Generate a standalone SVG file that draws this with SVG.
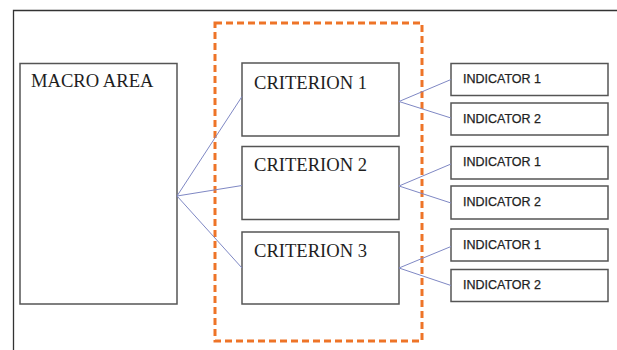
<svg xmlns="http://www.w3.org/2000/svg" width="617" height="350" viewBox="0 0 617 350">
<style>
.box{fill:#fff;stroke:#555;stroke-width:1.5}
.serif{font-family:"Liberation Serif","Times New Roman",serif;fill:#1e1e1e;font-size:18.6px}
.ind{font-family:"Liberation Sans",Arial,sans-serif;fill:#222;font-size:12.5px;stroke:#222;stroke-width:0.25}
.conn line{stroke:#7f88c4;stroke-width:1}
</style>
<rect width="617" height="350" fill="#fff"/>
<path d="M13.5 350 V10.5 H617" fill="none" stroke="#333" stroke-width="1.3"/>
<rect x="215" y="23" width="207" height="318" fill="none" stroke="#ee7428" stroke-width="3" stroke-dasharray="7 4"/>
<g id="macro"><rect class="box" x="20" y="63.5" width="157" height="240.5"/><text class="serif" x="31" y="87" font-size="19">MACRO AREA</text></g>
<g id="crit1"><rect class="box" x="242" y="63" width="157" height="73"/><text class="serif" x="254" y="88.5">CRITERION 1</text></g>
<g id="crit2"><rect class="box" x="242" y="146.5" width="157" height="73"/><text class="serif" x="254" y="170.5">CRITERION 2</text></g>
<g id="crit3"><rect class="box" x="242" y="232" width="157" height="72"/><text class="serif" x="254" y="256.5">CRITERION 3</text></g>
<g id="ind1a"><rect class="box" x="451" y="63.5" width="157" height="32"/><text class="ind" x="463" y="83">INDICATOR 1</text></g>
<g id="ind2a"><rect class="box" x="451" y="103" width="157" height="32"/><text class="ind" x="463" y="122.5">INDICATOR 2</text></g>
<g id="ind1b"><rect class="box" x="451" y="146.5" width="157" height="32.5"/><text class="ind" x="463" y="166">INDICATOR 1</text></g>
<g id="ind2b"><rect class="box" x="451" y="186" width="157" height="33"/><text class="ind" x="463" y="205.5">INDICATOR 2</text></g>
<g id="ind1c"><rect class="box" x="451" y="229" width="157" height="32"/><text class="ind" x="463" y="248.5">INDICATOR 1</text></g>
<g id="ind2c"><rect class="box" x="451" y="269.5" width="157" height="32"/><text class="ind" x="463" y="288.5">INDICATOR 2</text></g>
<g id="connectors" class="conn">
<line x1="177" y1="196" x2="242" y2="96.5"/>
<line x1="177" y1="196" x2="242" y2="185.5"/>
<line x1="177" y1="196" x2="242" y2="268"/>
<line x1="399" y1="101.5" x2="451" y2="79.5"/>
<line x1="399" y1="101.5" x2="451" y2="118"/>
<line x1="399" y1="186" x2="451" y2="164"/>
<line x1="399" y1="186" x2="451" y2="203"/>
<line x1="399" y1="268" x2="451" y2="246.5"/>
<line x1="399" y1="268" x2="451" y2="285.5"/>
</g>
</svg>
